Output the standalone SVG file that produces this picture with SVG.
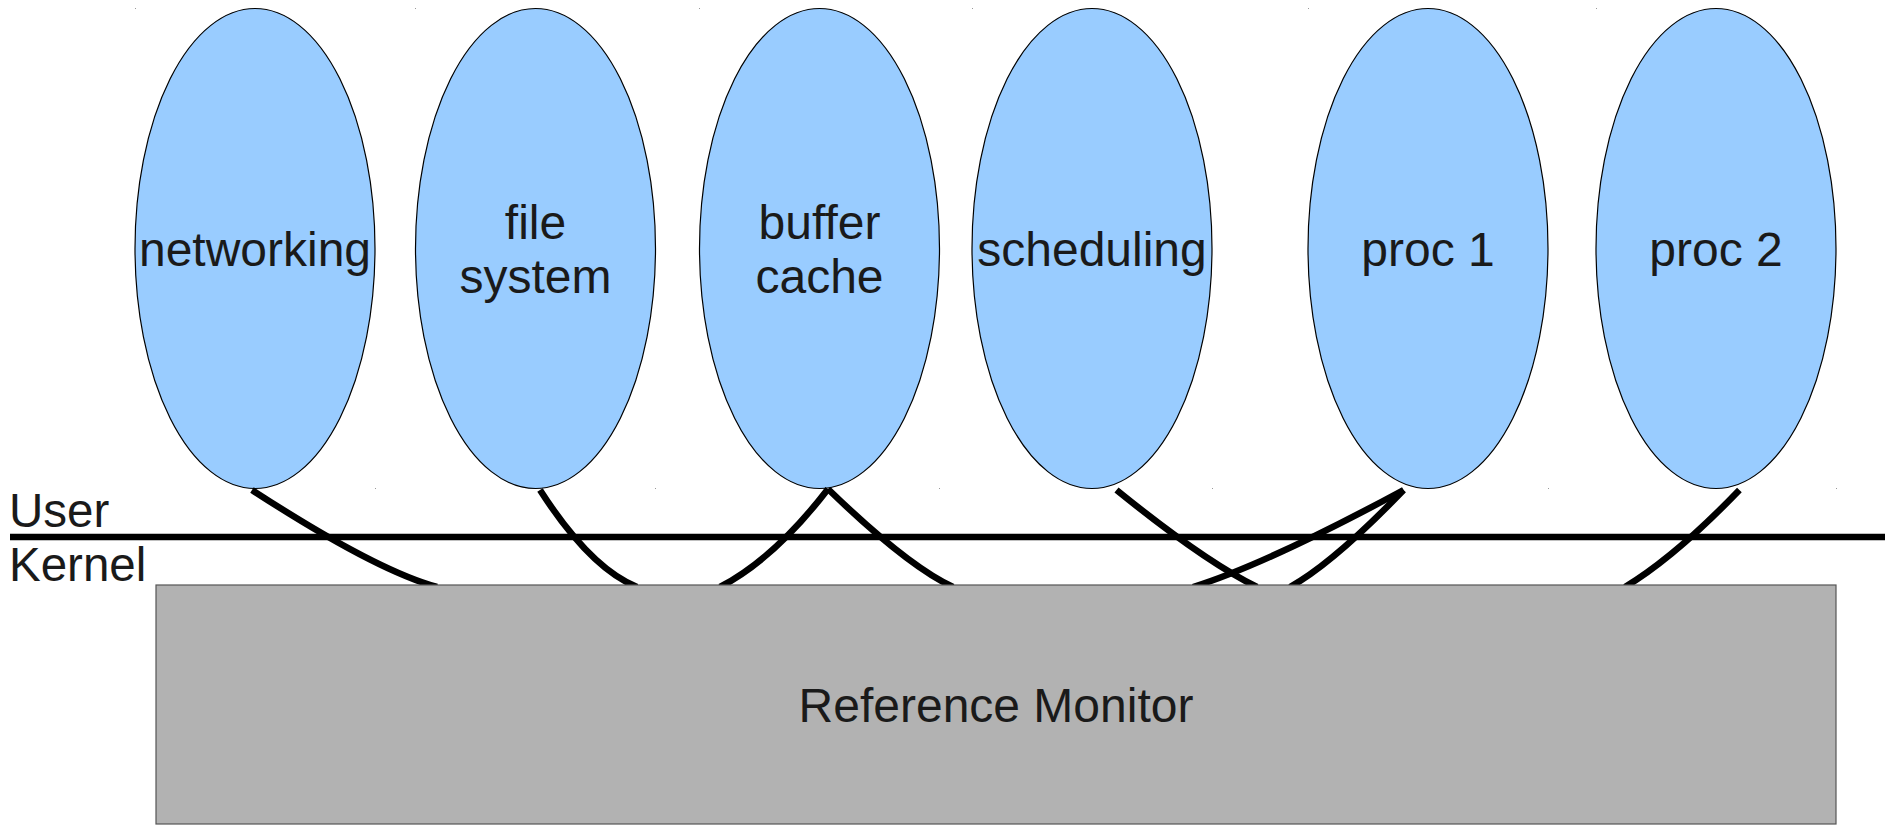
<svg xmlns="http://www.w3.org/2000/svg" width="1892" height="825" viewBox="0 0 1892 825">
<style>
.node ellipse{fill:#99ccff;stroke:#000;stroke-width:1.2}
.t{font-family:"Liberation Sans",Arial,sans-serif;font-size:48px;fill:#1a1a1a;text-anchor:middle}
.lab{font-family:"Liberation Sans",Arial,sans-serif;font-size:47.5px;fill:#1a1a1a}
.conn path{fill:none;stroke:#000;stroke-width:6.5}
.dot{fill:#999}
</style>
<rect width="1892" height="825" fill="#fff"/>
<g id="networking" class="node"><ellipse cx="255" cy="248.5" rx="120" ry="240"/><text class="t" x="255" y="266">networking</text></g>
<g id="file-system" class="node"><ellipse cx="535.5" cy="248.5" rx="120" ry="240"/><text class="t" x="535.5" y="238.5">file</text><text class="t" x="535.5" y="292.5">system</text></g>
<g id="buffer-cache" class="node"><ellipse cx="819.5" cy="248.5" rx="120" ry="240"/><text class="t" x="819.5" y="238.5">buffer</text><text class="t" x="819.5" y="292.5">cache</text></g>
<g id="scheduling" class="node"><ellipse cx="1092" cy="248.5" rx="120" ry="240"/><text class="t" x="1092" y="266">scheduling</text></g>
<g id="proc1" class="node"><ellipse cx="1428" cy="248.5" rx="120" ry="240"/><text class="t" x="1428" y="266">proc 1</text></g>
<g id="proc2" class="node"><ellipse cx="1716" cy="248.5" rx="120" ry="240"/><text class="t" x="1716" y="266">proc 2</text></g>
<g id="marks">
<rect class="dot" x="135" y="8" width="1" height="1"/><rect class="dot" x="415" y="8" width="1" height="1"/><rect class="dot" x="699" y="8" width="1" height="1"/><rect class="dot" x="972" y="8" width="1" height="1"/><rect class="dot" x="1308" y="8" width="1" height="1"/><rect class="dot" x="1596" y="8" width="1" height="1"/>
<rect class="dot" x="375" y="488" width="1" height="1"/><rect class="dot" x="655" y="488" width="1" height="1"/><rect class="dot" x="939" y="488" width="1" height="1"/><rect class="dot" x="1212" y="488" width="1" height="1"/><rect class="dot" x="1548" y="488" width="1" height="1"/><rect class="dot" x="1836" y="488" width="1" height="1"/>
</g>
<g id="connectors" class="conn">
<path d="M252,490 Q375,570 437,587"/>
<path d="M540,490 Q590,568 637,587"/>
<path d="M828,489 Q774.3,558.8 720,587"/>
<path d="M828,489 Q907,565.6 953,587"/>
<path d="M1116.5,490 Q1204.5,561.3 1257,587"/>
<path d="M1403.6,490 Q1265.8,564.4 1193,587"/>
<path d="M1403.6,490 Q1333.7,562.7 1290,587"/>
<path d="M1739.4,490 Q1675.5,556.5 1625,587"/>
</g>
<g id="boundary">
<line x1="10" y1="537" x2="1885" y2="537" stroke="#000" stroke-width="6.7"/>
<text class="lab" x="9" y="527">User</text>
<text class="lab" x="9" y="581">Kernel</text>
</g>
<g id="reference-monitor">
<rect x="156" y="585" width="1680" height="239" fill="#b2b2b2" stroke="#555" stroke-width="1.2"/>
<text class="t" x="996" y="722">Reference Monitor</text>
</g>
</svg>
